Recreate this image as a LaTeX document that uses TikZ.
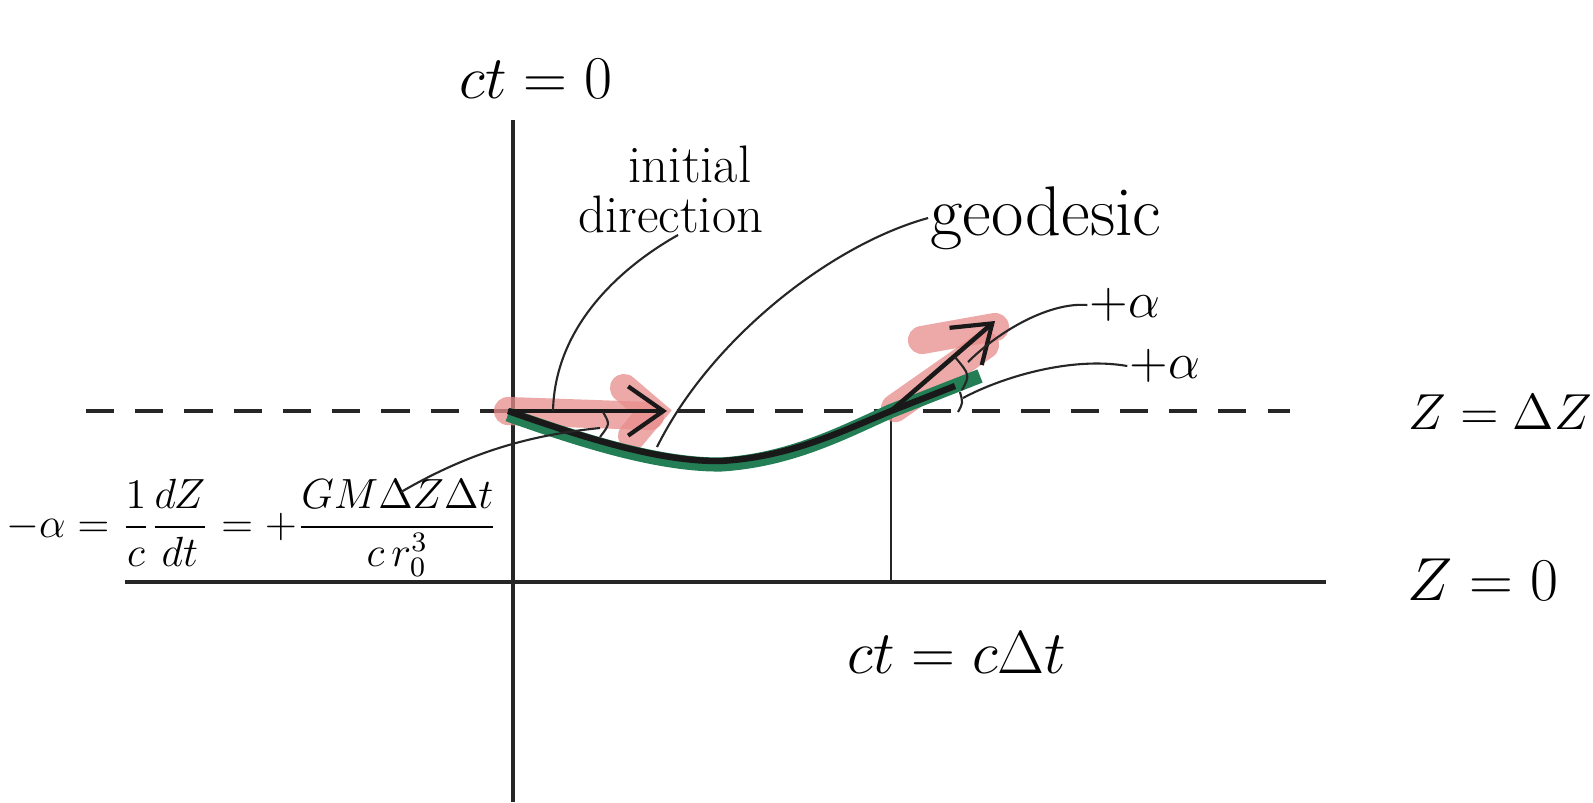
\documentclass[tikz,border=0pt]{standalone}
\usepackage{amsmath}
\usetikzlibrary{arrows.meta}
\definecolor{geogreen}{RGB}{35,125,85}
\definecolor{hlpink}{RGB}{232,140,140}
\begin{document}
\begin{tikzpicture}[
    x=0.01cm, y=-0.01cm,
    lbl/.style={font=\fontsize{#1}{#1}\selectfont, inner sep=0.5pt},
    lbl/.default=16,
    axis/.style={line width=0.9pt, black!85},
    lead/.style={line width=0.6pt, black!85},
    geo/.style={line width=1.8pt, black!90},
    geoband/.style={line width=4pt, geogreen},
    hl/.style={line width=8pt, hlpink, opacity=0.75, line cap=round},
    arr/.style={-{Straight Barb[length=10pt, width=14pt, line width=1.2pt]},
                line width=1.3pt, black!90},
]
\useasboundingbox (0,0) rectangle (1593,802);
\fill[white] (0,0) rectangle (1593,802);

% points on the geodesic
\coordinate (O) at (508,411);
\coordinate (B) at (721,461);
\coordinate (E) at (891,411);
\coordinate (G) at (980,376);
\coordinate (A1) at (667,411);
\coordinate (A2) at (995,321);

% axes and the two levels
\coordinate (vtop) at (513,120);
\coordinate (vbot) at (513,802);
\coordinate (zl) at (125,582);
\coordinate (zr) at (1326,582);
\coordinate (dl) at (86,411);
\coordinate (dr) at (1290,411);
\coordinate (Ebot) at (891,582);

\draw[axis] (vtop) -- (vbot);
\draw[axis] (zl) -- (zr);
\draw[axis, line width=0.6pt] (E) -- (Ebot);
\draw[axis, dash pattern=on 8pt off 6pt] (dl) -- (dr);

% marker highlights
\draw[hl] (O) -- (650,416);
\draw[hl] (624,388) -- (652,412) -- (632,436);
\draw[hl] (895,408) -- (985,345);
\draw[hl] (922,340) -- (995,327);

% the geodesic
\draw[geoband] ([yshift=-1pt]O) .. controls (585,442) and (660,465) .. ([yshift=-1pt]B)
    .. controls (790,460) and (840,434) .. (E) -- (G);
\draw[geo] (O) .. controls (585,438) and (660,462) .. (B)
    .. controls (790,457) and (840,432) .. (E) -- (955,386);

\draw[arr] (O) -- (A1);
\draw[arr] (E) -- (A2);

% angle marks
\draw[lead] (603,412) .. controls (610,424) .. (600,437);
\draw[lead] (958,412) .. controls (963,403) .. (960,392);
\draw[lead] (962,390) .. controls (970,375) .. (955,357);

% labels
\node[lbl=19] (ct0) at (536,79) {$ct = 0$};
\node[lbl=15] (ini) at (690,164) {initial};
\node[lbl=15] (dir) at (671,214) {direction};
\node[lbl=20] (geolbl) at (1046,218) {geodesic};
\node[lbl=15] (pa1) at (1125,305) {$+\alpha$};
\node[lbl=15] (pa2) at (1165,366) {$+\alpha$};
\node[lbl=14] (zdz) at (1500,412) {$Z = \Delta Z$};
\node[lbl] (z0) at (1483,580) {$Z = 0$};
\node[lbl=17] (ctdt) at (957,653) {$ct = c\Delta t$};
\node[lbl=11.5] (form) at (252,528)
  {$-\alpha = \dfrac{1}{c}\dfrac{dZ}{dt} = +\dfrac{GM\Delta Z\Delta t}{c\,r_0^3}$};

% leaders
\coordinate (fM) at (401,492);
\coordinate (angO) at (600,428);
\coordinate (onarr) at (553,411);
\coordinate (ongeo) at (657,447);
\coordinate (angE1) at (968,362);
\coordinate (angE2) at (963,398);
\draw[lead] ([xshift=2pt]dir.south) .. controls (630,262) and (555,320) .. (onarr);
\draw[lead] (geolbl.west) .. controls (830,245) and (710,340) .. (ongeo);
\draw[lead] (fM) .. controls (470,452) and (530,435) .. (angO);
\draw[lead] (pa1.west) .. controls (1050,302) and (1000,330) .. (angE1);
\draw[lead] (pa2.west) .. controls (1070,356) and (1000,378) .. (angE2);
\end{tikzpicture}
\end{document}
